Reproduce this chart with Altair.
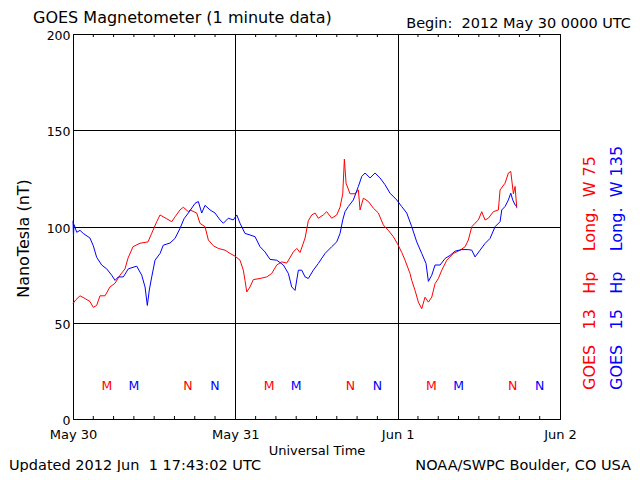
import json
import altair as alt
import pandas as pd

FONT = "DejaVu Sans"

# ---- data (hours since 2012-05-30 00:00 UTC, nT) ----
red_hours = [0.0, 0.44, 1.04, 1.77, 2.51, 3.00, 3.50, 3.99, 4.73, 5.47, 6.21, 6.95, 7.69, 8.13,
             8.87, 9.91, 11.09, 11.64, 12.38, 12.87, 13.86, 14.59, 15.08, 15.82, 16.31, 17.05,
             17.30, 18.29, 18.78, 19.52, 20.01, 20.75, 21.49, 22.48, 23.22, 23.95, 24.69, 25.18,
             25.43, 25.69, 26.17, 26.66, 27.65, 28.64, 29.38, 30.12, 30.86, 31.60, 32.58, 33.08,
             33.57, 34.31, 34.79, 35.30, 35.79, 36.27, 37.01, 37.51, 38.25, 38.99, 39.48, 39.88,
             40.12, 40.37, 40.96, 41.70, 42.19, 42.44, 42.93, 43.67, 44.41, 45.15, 45.88, 46.62,
             47.36, 47.95, 48.61, 49.09, 49.83, 50.08, 50.57, 51.06, 51.56, 52.05, 52.54, 53.04,
             53.53, 54.02, 54.52, 55.26, 56.23, 57.23, 57.97, 58.45, 58.96, 59.44, 59.93, 60.43,
             60.92, 61.41, 62.15, 62.89, 63.14, 63.88, 64.37, 64.72, 65.11, 65.36, 65.61]
red_nt = [60, 62, 64, 62.6, 61, 58, 59, 64, 64, 68.6, 70.5, 74.7, 78, 83.5,
          89.5, 91.3, 92, 96.5, 102.5, 106, 104, 102.5, 105, 108.6, 110, 107.7,
          108.6, 107, 101.6, 99.9, 93, 90, 88.6, 87.7, 86, 84.6, 82.5, 77.3,
          72, 66, 68.6, 72.4, 73, 73.8, 75.6, 80, 81.6, 81, 86.8, 88.6,
          86.5, 94, 103, 106, 107, 104.3, 106, 107.7, 104.3, 106, 110, 117,
          135, 122.5, 117, 117, 119, 108.6, 114.7, 113, 109.5, 107, 100.8, 98,
          94.7, 91.2, 86.5, 82.5, 75.6, 72, 66.8, 60.7, 57.3, 63.3, 60.7, 63.3,
          70.3, 73, 77.3, 82.5, 86, 87.7, 89.5, 93, 99.9, 101.7, 103.4, 107.7,
          103.4, 104.3, 107.7, 108.6, 119, 122.5, 127.8, 128.6, 117, 120.8, 109.5]

blue_hours = [0.0, 0.07, 0.15, 0.55, 1.04, 1.52, 2.51, 3.00, 3.50, 4.24, 4.98, 5.72, 6.21, 6.70,
              7.44, 8.18, 9.42, 10.16, 10.65, 10.99, 11.28, 11.64, 12.13, 12.87, 13.35, 14.34,
              15.08, 15.82, 16.41, 17.05, 18.04, 18.53, 19.03, 19.52, 20.26, 21.00, 21.74, 22.23,
              22.96, 23.70, 24.21, 24.69, 25.43, 26.17, 26.91, 27.65, 28.39, 29.13, 30.12, 31.10,
              31.84, 32.34, 32.83, 33.32, 33.82, 34.31, 34.79, 35.53, 36.27, 37.26, 38.25, 38.99,
              39.48, 39.88, 40.22, 40.71, 41.45, 42.19, 42.69, 43.18, 43.92, 44.66, 45.40, 46.13,
              46.87, 47.86, 48.61, 49.34, 50.08, 50.82, 51.56, 52.19, 52.54, 53.04, 53.53, 54.27,
              55.01, 55.75, 56.49, 57.48, 58.45, 58.96, 59.44, 60.18, 60.92, 61.66, 62.40, 63.14,
              63.39, 63.88, 64.37, 64.72, 65.01, 65.36, 65.61]
blue_nt = [103, 95, 101, 97, 98, 96.4, 94, 90, 84, 80, 78, 74.7, 72, 73.8,
           73.8, 78, 79.4, 74.7, 68.6, 59, 67, 73.8, 82.5, 86, 90.3, 91.4,
           93.8, 99, 104, 107, 112, 113, 107, 111, 108.6, 107, 103.4, 101.7,
           104.3, 103.4, 106, 101.7, 96.4, 95.6, 94.7, 89.5, 86.8, 82.9, 82.5, 80,
           75.6, 68.6, 66.8, 77.3, 77.3, 73.8, 73, 77.3, 80.8, 86, 89.5, 92,
           96.4, 103.4, 107.7, 110.4, 113.8, 120.8, 126, 127.8, 125.2, 127.8, 125.2, 121.7,
           117.3, 113.8, 110.3, 107, 99.9, 92, 86, 80.8, 71.5, 74.7, 80, 80,
           83.4, 85, 87.2, 88, 88, 87.7, 84.2, 87.7, 91.2, 93.8, 99.9, 102.5,
           108.6, 110.4, 113.8, 117.3, 113.8, 111.2, 110.4]

satellites = ["GOES 13", "GOES 15"]
sat_colors = ["#ff0000", "#0000ff"]
NB = "\u00a0"
sat_labels = [
    f"GOES{NB*3}13{NB*3}Hp{NB*4}Long.{NB*2}W{NB}75",
    f"GOES{NB*3}15{NB*3}Hp{NB*4}Long.{NB*2}W{NB}135",
]

day_hours = [0, 24, 48, 72]
day_labels = ["May 30", "May 31", "Jun 1", "Jun 2"]
y_ticks = [0, 50, 100, 150, 200]
minor_tick_hours = [3, 6, 9, 12, 15, 18, 21, 27, 30, 33, 36, 39, 42, 45,
                    51, 54, 57, 60, 63, 66, 69]

marker_hours = [5, 17, 29, 41, 53, 65, 9, 21, 33, 45, 57, 69]
marker_letters = ["M", "N", "M", "N", "M", "N", "M", "N", "M", "N", "M", "N"]
marker_sats = ["GOES 13"] * 6 + ["GOES 15"] * 6
marker_level = 15

title_text = "GOES Magnetometer (1 minute data)"
begin_text = f"Begin:{NB}{NB}2012 May 30 0000 UTC"
updated_text = f"Updated 2012 Jun {NB}1 17:43:02 UTC"
credit_text = "NOAA/SWPC Boulder, CO USA"
x_title = "Universal Time"
y_title = "NanoTesla (nT)"

# ---- tables ----
lines_df = pd.DataFrame({
    "hour": red_hours + blue_hours,
    "nT": red_nt + blue_nt,
    "sat": [satellites[0]] * len(red_hours) + [satellites[1]] * len(blue_hours),
})
markers_df = pd.DataFrame({
    "hour": marker_hours,
    "nT": [marker_level] * len(marker_hours),
    "letter": marker_letters,
    "sat": marker_sats,
})
ticks_df = pd.DataFrame({"hour": minor_tick_hours})

x_scale = alt.Scale(domain=[day_hours[0], day_hours[-1]], nice=False, zero=False)
y_scale = alt.Scale(domain=[y_ticks[0], y_ticks[-1]], nice=False, zero=False)
color = alt.Color("sat:N", scale=alt.Scale(domain=satellites, range=sat_colors), legend=None)

x_axis = alt.Axis(
    values=day_hours,
    labelExpr=f"{json.dumps(day_labels)}[round(datum.value / 24)]",
    grid=True, ticks=False, tickSize=0, domain=False,
    labelPadding=9, labelFontSize=13, labelFlush=False, labelOverlap=False, labelBound=False,
    title=x_title, titleFontSize=13, titleY=35, titleBaseline="alphabetic",
)
y_axis = alt.Axis(
    values=y_ticks, grid=True, ticks=False, tickSize=0, domain=False,
    labelPadding=3, labelFontSize=12.5, labelFlush=False, labelOverlap=False, labelOffset=1.5,
    title=y_title, titleFontSize=16, titleAngle=270, titleX=-45, titleY=204,
    titleAlign="center", titleBaseline="alphabetic",
)

X = alt.X("hour:Q", scale=x_scale, axis=x_axis)
Y = alt.Y("nT:Q", scale=y_scale, axis=y_axis)

lines = alt.Chart(lines_df).mark_line(strokeWidth=1).encode(
    x=X, y=Y, color=color, detail="sat:N",
)

markers = alt.Chart(markers_df).mark_text(font=FONT, fontSize=12.5, baseline="alphabetic", align="center").encode(
    x=X, y=Y, text="letter:N", color=color,
)

ticks_bottom = alt.Chart(ticks_df).mark_rule(color="black", strokeWidth=1).encode(
    x=X, y=alt.value(385), y2=alt.value(382),
)
ticks_top = alt.Chart(ticks_df).mark_rule(color="black", strokeWidth=1).encode(
    x=X, y=alt.value(0), y2=alt.value(3),
)


def label(text, x, y, size, align="left", color="black", angle=0):
    kw = dict(font=FONT, fontSize=size, align=align, baseline="alphabetic", color=color)
    if angle:
        kw["angle"] = angle
    return alt.Chart(pd.DataFrame({"t": [text]})).mark_text(**kw).encode(
        text="t:N", x=alt.value(x), y=alt.value(y)
    )


texts = [
    label(title_text, -40, -11, 16),
    label(begin_text, 558, -6, 14.5, align="right"),
    label(updated_text, -64, 436, 14.5),
    label(credit_text, 558, 436, 14.5, align="right"),
    label(sat_labels[0], 522, 356, 16, color=sat_colors[0], angle=270),
    label(sat_labels[1], 549, 356, 16, color=sat_colors[1], angle=270),
]

chart = alt.layer(lines, ticks_bottom, ticks_top, markers, *texts).properties(
    width=487,
    height=385,
    autosize=alt.AutoSizeParams(type="none"),
    padding={"left": 65, "top": 26, "right": 72, "bottom": 53},
    background="white",
).configure_view(
    stroke="black", strokeWidth=1
).configure_axis(
    gridColor="black", gridOpacity=1, gridWidth=1,
    labelColor="black", titleColor="black",
    labelFont=FONT, titleFont=FONT, titleFontWeight="normal",
)

chart.save("out.html", embed_options={"renderer": "svg", "actions": False})
